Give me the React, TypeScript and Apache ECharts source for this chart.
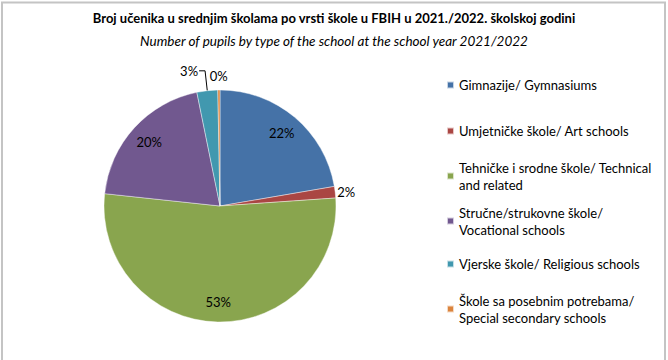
import React, { useEffect, useRef } from 'react';
import * as echarts from 'echarts';

const titleText = 'Broj učenika u srednjim školama po vrsti škole u FBIH u 2021./2022. školskoj godini';
const subtitleText = 'Number of pupils by type of the school at the school year 2021/2022';

const categories = [
  'Gimnazije/ Gymnasiums',
  'Umjetničke škole/ Art schools',
  'Tehničke i srodne škole/ Technical and related',
  'Stručne/strukovne škole/ Vocational schools',
  'Vjerske škole/ Religious schools',
  'Škole sa posebnim potrebama/ Special secondary schools',
];

const legendLabels = [
  'Gimnazije/ Gymnasiums',
  'Umjetničke škole/ Art schools',
  'Tehničke i srodne škole/ Technical\nand related',
  'Stručne/strukovne škole/\nVocational schools',
  'Vjerske škole/ Religious schools',
  'Škole sa posebnim potrebama/\nSpecial secondary schools',
];

// share of pupils, %
const shares = [22.3, 1.6, 52.8, 20.1, 2.9, 0.3];

const colors = ['#4572A7', '#AA4643', '#89A54E', '#71588F', '#4198AF', '#DB843D'];

const FONT = 'Lato';

export default function App() {
  const ref = useRef<HTMLDivElement>(null);

  useEffect(() => {
    if (!ref.current) return;
    const chart = echarts.init(ref.current, null, { renderer: 'svg' });

    const center = [220, 206];
    const R = 116;
    const lineH = 17;
    const legendCenters = [85, 131, 176, 221, 264, 309];

    const legends = categories.map((name, i) => {
      const twoLines = legendLabels[i].includes('\n');
      return {
        orient: 'vertical',
        left: 446,
        top: legendCenters[i] - (twoLines ? lineH * 1.5 : lineH / 2),
        padding: 0,
        itemWidth: 7,
        itemHeight: 7,
        icon: 'rect',
        selectedMode: false,
        data: [{ name, itemStyle: { color: colors[i] } }],
        formatter: () => legendLabels[i],
        textStyle: {
          fontFamily: FONT,
          fontSize: 13,
          lineHeight: lineH,
          color: '#000',
          padding: twoLines ? [lineH, 0, 0, 0] : 0,
        },
      };
    });

    const labelConf = (i: number) => {
      if (i === 1) {
        return {
          label: { position: 'outside', distanceToLabelLine: 2 },
          labelLine: { show: false, length: 0, length2: 0 },
        };
      }
      if (i === 4) {
        return {
          label: { position: 'outside', distanceToLabelLine: 1 },
          labelLine: { show: true, length: 20, length2: 6 },
        };
      }
      if (i === 5) {
        return {
          label: { position: 'outside', distanceToLabelLine: 0 },
          labelLine: { show: false, length: 14, length2: 0 },
        };
      }
      return { label: { position: 'inside' } };
    };

    chart.setOption({
      animation: false,
      backgroundColor: '#fff',
      title: {
        left: 'center',
        top: 10,
        padding: 0,
        itemGap: 7,
        text: titleText,
        subtext: subtitleText,
        textStyle: { fontFamily: FONT, fontSize: 13, fontWeight: 'bold', color: '#000', lineHeight: 16 },
        subtextStyle: { fontFamily: FONT, fontSize: 13.5, fontStyle: 'italic', color: '#000', lineHeight: 16 },
      },
      legend: legends,
      graphic: [
        {
          type: 'rect',
          shape: { x: 2, y: 2.5, width: 663, height: 420 },
          style: { fill: 'none', stroke: '#c4c4c4', lineWidth: 2 },
          silent: true,
        },
      ],
      series: [
        {
          type: 'pie',
          center,
          radius: [0, R],
          startAngle: 90,
          clockwise: true,
          avoidLabelOverlap: false,
          label: { show: false },
          labelLine: { show: false },
          emphasis: { disabled: true },
          itemStyle: { borderColor: 'rgba(255,255,255,0.7)', borderWidth: 0.6 },
          data: categories.map((name, i) => ({
            name,
            value: shares[i],
            itemStyle: { color: colors[i] },
          })),
        },
        {
          type: 'pie',
          center,
          radius: [R * 0.6, R],
          startAngle: 90,
          clockwise: true,
          silent: true,
          avoidLabelOverlap: false,
          emphasis: { disabled: true },
          itemStyle: { color: 'rgba(0,0,0,0)', borderWidth: 0 },
          label: {
            show: true,
            fontFamily: FONT,
            fontSize: 13,
            color: '#000',
            formatter: (p: any) => Math.round(p.percent) + '%',
          },
          labelLine: { lineStyle: { color: '#000', width: 1 } },
          labelLayout: (p: any) => (p.dataIndex === 5 ? { align: 'center' } : {}),
          data: categories.map((name, i) => ({
            name,
            value: shares[i],
            ...labelConf(i),
          })),
        },
      ],
    });

    return () => chart.dispose();
  }, []);

  return (
    <div
      ref={ref}
      style={{ position: 'absolute', left: 0, top: 0, width: 668, height: 360 }}
    />
  );
}
